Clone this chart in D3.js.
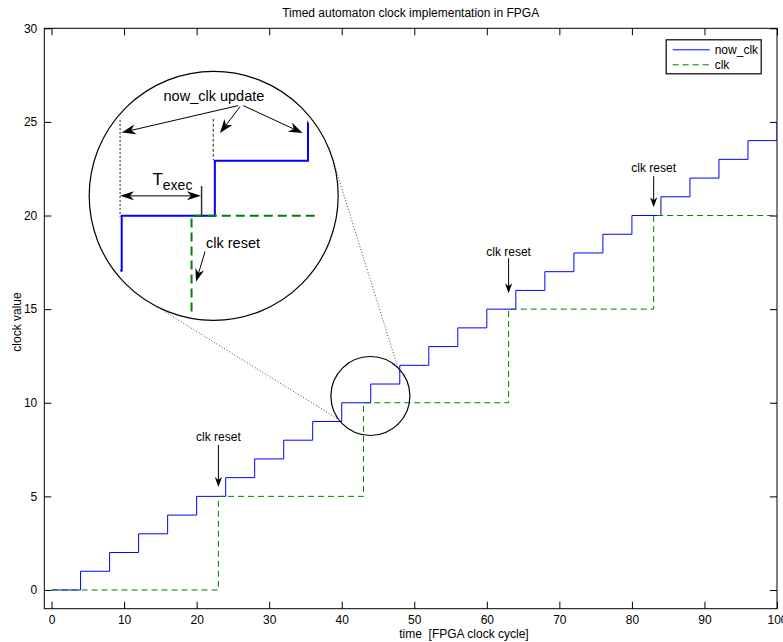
<!DOCTYPE html>
<html>
<head>
<meta charset="utf-8">
<script src="https://cdn.jsdelivr.net/npm/d3@7"></script>
<style>
  body { margin: 0; background: #fff; }
  text { font-family: 'Liberation Sans', Arial, Helvetica, sans-serif; }
</style>
</head>
<body>
<script>
'use strict';

// now_clk: increments every 4 FPGA cycles
var nowTimes  = [0, 4, 8, 12, 16, 20, 24, 28, 32, 36, 40, 44, 48, 52, 56, 60, 64, 68, 72, 76, 80, 84, 88, 92, 96, 100];
var nowValues = [0, 1, 2, 3, 4, 5, 6, 7, 8, 9, 10, 11, 12, 13, 14, 15, 16, 17, 18, 19, 20, 21, 22, 23, 24, 25];

// clk: follows now_clk only at reset instants
var clkTimes  = [0, 23, 43, 63, 83, 100];
var clkValues = [0, 5, 10, 15, 20, 20];

var xTicks = [0, 10, 20, 30, 40, 50, 60, 70, 80, 90, 100];
var yTicks = [0, 5, 10, 15, 20, 25, 30];

// "clk reset" labels in the main plot (data units)
var resetX     = [23, 63, 83];
var resetTextY = [7.96, 17.84, 22.33];
var resetFromY = [7.75, 17.72, 22.1];
var resetToY   = [5.5, 15.85, 20.44];

var width = 783, height = 642;
var margin = {left: 44.3, right: 6, top: 28.3, bottom: 33.3};

var svg = d3.select('body').append('svg')
    .attr('width', width)
    .attr('height', height);

var x = d3.scaleLinear().domain([-1, 100]).range([margin.left, width - margin.right]);
var y = d3.scaleLinear().domain([-1, 30]).range([height - margin.bottom, margin.top]);

var nowData = nowTimes.map(function(t, i) { return [t, nowValues[i]]; });
var clkData = clkTimes.map(function(t, i) { return [t, clkValues[i]]; });

svg.append('defs').append('clipPath')
    .attr('id', 'plotclip')
  .append('rect')
    .attr('x', x(-1)).attr('y', y(30))
    .attr('width', x(100) - x(-1)).attr('height', y(-1) - y(30));

// ---- axes (ticks point inward, box on) ----
function styleAxis(g) {
  g.select('.domain').remove();
  g.attr('font-size', 12).attr('font-family', null);
  g.selectAll('line').attr('stroke', '#000');
  g.selectAll('text').attr('fill', '#000');
}

svg.append('g')
    .attr('transform', 'translate(0,' + y(-1) + ')')
    .call(d3.axisBottom(x).tickValues(xTicks).tickSize(-7).tickPadding(7))
    .call(styleAxis);
svg.append('g')
    .attr('transform', 'translate(0,' + y(30) + ')')
    .call(d3.axisTop(x).tickValues(xTicks).tickSize(-7).tickFormat(''))
    .call(styleAxis);
svg.append('g')
    .attr('transform', 'translate(' + x(-1) + ',0)')
    .call(d3.axisLeft(y).tickValues(yTicks).tickSize(-7).tickPadding(7))
    .call(styleAxis);
svg.append('g')
    .attr('transform', 'translate(' + x(100) + ',0)')
    .call(d3.axisRight(y).tickValues(yTicks).tickSize(-7).tickFormat(''))
    .call(styleAxis);

svg.append('rect')
    .attr('x', x(-1)).attr('y', y(30))
    .attr('width', x(100) - x(-1)).attr('height', y(-1) - y(30))
    .attr('fill', 'none')
    .attr('stroke', '#000');

// ---- series ----
var line = d3.line()
    .x(function(d) { return x(d[0]); })
    .y(function(d) { return y(d[1]); })
    .curve(d3.curveStepAfter);

var plot = svg.append('g').attr('clip-path', 'url(#plotclip)');

plot.append('path')
    .datum(nowData)
    .attr('d', line)
    .attr('fill', 'none')
    .attr('stroke', '#0000ff')
    .attr('stroke-width', 1);

plot.append('path')
    .datum(clkData)
    .attr('d', line)
    .attr('fill', 'none')
    .attr('stroke', '#008000')
    .attr('stroke-width', 1)
    .attr('stroke-dasharray', '6,4');

// ---- arrows ----
function arrowHead(g, x1, y1, x2, y2, len, hw) {
  var a = Math.atan2(y2 - y1, x2 - x1);
  var ux = Math.cos(a), uy = Math.sin(a);
  var nx = -uy, ny = ux;
  var bx = x2 - len * ux, by = y2 - len * uy;
  var kx = x2 - len * 0.7 * ux, ky = y2 - len * 0.7 * uy;
  g.append('path')
      .attr('d', 'M' + x2 + ',' + y2 +
                 'L' + (bx + hw * nx) + ',' + (by + hw * ny) +
                 'L' + kx + ',' + ky +
                 'L' + (bx - hw * nx) + ',' + (by - hw * ny) + 'Z')
      .attr('fill', '#000');
  return [kx, ky];
}

function arrow(g, x1, y1, x2, y2, len, hw, both) {
  var end = arrowHead(g, x1, y1, x2, y2, len, hw);
  var start = both ? arrowHead(g, x2, y2, x1, y1, len, hw) : [x1, y1];
  g.append('line')
      .attr('x1', start[0]).attr('y1', start[1])
      .attr('x2', end[0]).attr('y2', end[1])
      .attr('stroke', '#000')
      .attr('stroke-width', 1);
}

var notes = svg.append('g');

resetX.forEach(function(rx, i) {
  notes.append('text')
      .attr('x', x(rx))
      .attr('y', y(resetTextY[i]))
      .attr('text-anchor', 'middle')
      .attr('font-size', 12)
      .text('clk reset');
  arrow(notes, x(rx), y(resetFromY[i]), x(rx), y(resetToY[i]), 10, 3.6);
});

// ---- magnifier: lens on the plot and enlarged inset ----
var lensCenter  = [43.95, 10.36],
    lensR       = 39.5,
    insetCenter = [22.35, 21.05],
    insetR      = 124.5,
    zoomKx      = 3.21,
    zoomKy      = 2.94;

var icx = x(insetCenter[0]), icy = y(insetCenter[1]);
var lcx = x(lensCenter[0]),  lcy = y(lensCenter[1]);

function ix(d) { return icx + (x(d) - lcx) * zoomKx; }
function iy(d) { return icy + (y(d) - lcy) * zoomKy; }

// connectors between lens and inset (angles in degrees on each circle)
var connectors = [{inset: 118, lens: 144}, {inset: -18, lens: -46}];

connectors.forEach(function(c) {
  var a = c.inset * Math.PI / 180, b = c.lens * Math.PI / 180;
  notes.append('line')
      .attr('x1', icx + insetR * Math.cos(a)).attr('y1', icy + insetR * Math.sin(a))
      .attr('x2', lcx + lensR * Math.cos(b)).attr('y2', lcy + lensR * Math.sin(b))
      .attr('stroke', '#444')
      .attr('stroke-width', 1)
      .attr('stroke-dasharray', '1,2');
});

notes.append('circle')
    .attr('cx', lcx).attr('cy', lcy).attr('r', lensR)
    .attr('fill', 'none')
    .attr('stroke', '#000')
    .attr('stroke-width', 1.2);

notes.append('circle')
    .attr('cx', icx).attr('cy', icy).attr('r', insetR)
    .attr('fill', '#fff')
    .attr('stroke', '#000')
    .attr('stroke-width', 1.2);

var defs = svg.select('defs');
defs.append('clipPath').attr('id', 'insetcircle')
  .append('circle').attr('cx', icx).attr('cy', icy).attr('r', insetR - 4.5);
defs.append('clipPath').attr('id', 'insetrange')
  .append('rect')
    .attr('x', ix(40) - 2).attr('y', 0)
    .attr('width', ix(48.3) - ix(40) + 2).attr('height', height);

var inset = notes.append('g').attr('clip-path', 'url(#insetcircle)')
  .append('g').attr('clip-path', 'url(#insetrange)');

var insetLine = d3.line()
    .x(function(d) { return ix(d[0]); })
    .y(function(d) { return iy(d[1]); })
    .curve(d3.curveStepAfter);

inset.append('path')
    .datum(nowData.filter(function(d) { return d[0] <= 48; }))
    .attr('d', insetLine)
    .attr('fill', 'none')
    .attr('stroke', '#0000ff')
    .attr('stroke-width', 2);

inset.append('path')
    .datum(clkData)
    .attr('d', insetLine)
    .attr('fill', 'none')
    .attr('stroke', '#008000')
    .attr('stroke-width', 2)
    .attr('stroke-dasharray', '9,5');

// inset annotations (inset data units)
var inNotes = notes.append('g');

inNotes.append('text')
    .attr('x', ix(43.96)).attr('y', iy(12.09))
    .attr('text-anchor', 'middle')
    .attr('font-size', 14.5)
    .text('now_clk update');

arrow(inNotes, ix(45.0),  iy(12.0),  ix(40.0),  iy(11.51), 14, 5);
arrow(inNotes, ix(45.08), iy(11.98), ix(44.22), iy(11.5),  14, 5);
arrow(inNotes, ix(45.22), iy(12.0),  ix(47.77), iy(11.5),  14, 5);

inNotes.append('line')
    .attr('x1', ix(39.93)).attr('y1', iy(11.74))
    .attr('x2', ix(39.93)).attr('y2', iy(9.98))
    .attr('stroke', '#222')
    .attr('stroke-dasharray', '2,2');
inNotes.append('line')
    .attr('x1', ix(43.93)).attr('y1', iy(11.76))
    .attr('x2', ix(43.93)).attr('y2', iy(11.01))
    .attr('stroke', '#222')
    .attr('stroke-dasharray', '3,2');

// T_exec
arrow(inNotes, ix(39.93), iy(10.36), ix(43.4), iy(10.36), 14, 4.5, true);
inNotes.append('line')
    .attr('x1', ix(43.43)).attr('y1', iy(10.54))
    .attr('x2', ix(43.43)).attr('y2', iy(9.98))
    .attr('stroke', '#333')
    .attr('stroke-width', 1.5);

var texec = inNotes.append('text')
    .attr('x', ix(41.32)).attr('y', iy(10.56));
texec.append('tspan').attr('font-size', 17).text('T');
texec.append('tspan').attr('font-size', 14).attr('dy', 5).text('exec');

inNotes.append('text')
    .attr('x', ix(43.62)).attr('y', iy(9.41))
    .attr('font-size', 14.5)
    .text('clk reset');
arrow(inNotes, ix(43.58), iy(9.35), ix(43.19), iy(8.8), 13, 4.5);

// ---- legend ----
var legend = svg.append('g')
    .attr('transform', 'translate(' + (x(100) - 111.3) + ',' + (y(30) + 11) + ')');

legend.append('rect')
    .attr('x', 0.5).attr('y', 0.5)
    .attr('width', 95).attr('height', 34)
    .attr('fill', '#fff')
    .attr('stroke', '#000')
    .attr('stroke-width', 1.2);

legend.append('line')
    .attr('x1', 7).attr('x2', 44).attr('y1', 10.5).attr('y2', 10.5)
    .attr('stroke', '#0000ff');
legend.append('line')
    .attr('x1', 7).attr('x2', 44).attr('y1', 25.5).attr('y2', 25.5)
    .attr('stroke', '#008000')
    .attr('stroke-dasharray', '6,4');

legend.append('text').attr('x', 49).attr('y', 14.5).attr('font-size', 12).text('now_clk');
legend.append('text').attr('x', 49).attr('y', 29.5).attr('font-size', 12).text('clk');

// ---- titles ----
svg.append('text')
    .attr('x', (x(-1) + x(100)) / 2)
    .attr('y', 17)
    .attr('text-anchor', 'middle')
    .attr('font-size', 12)
    .text('Timed automaton clock implementation in FPGA');

svg.append('text')
    .attr('x', x(56.85))
    .attr('y', 638)
    .attr('text-anchor', 'middle')
    .attr('font-size', 12)
    .attr('xml:space', 'preserve')
    .style('white-space', 'pre')
    .text('time  [FPGA clock cycle]');

svg.append('text')
    .attr('transform', 'translate(21,' + 322 + ') rotate(-90)')
    .attr('text-anchor', 'middle')
    .attr('font-size', 12)
    .text('clock value');
</script>
</body>
</html>
